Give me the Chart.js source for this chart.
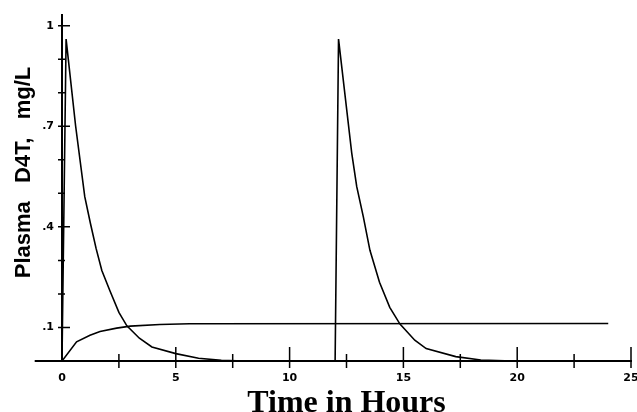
<!DOCTYPE html>
<html>
<head>
<meta charset="utf-8">
<script src="https://cdn.jsdelivr.net/npm/chart.js@4.4.0/dist/chart.umd.min.js"></script>
<style>
  html, body { margin: 0; padding: 0; background: #fff; overflow: hidden; }
  #wrap { width: 637px; height: 412px; overflow: hidden; }
</style>
</head>
<body>
<div id="wrap"><canvas id="chart" width="660" height="430"></canvas></div>
<script>
// first dose at time 0
const doseOneTime = [0, 0.18, 0.6, 1.0, 1.25, 1.5, 1.75, 2.1, 2.5, 2.85, 3.4, 3.95, 5.0, 6.0, 7.0, 8.0]
const doseOneConc = [0, 0.96, 0.7, 0.49, 0.41, 0.335, 0.27, 0.21, 0.145, 0.105, 0.068, 0.042, 0.022, 0.008, 0.002, 0]

// second dose at 12 h
const doseTwoTime = [12.0, 12.15, 12.73, 12.95, 13.24, 13.53, 13.95, 14.4, 14.85, 15.5, 16.0, 17.3, 18.4, 19.8]
const doseTwoConc = [0, 0.96, 0.62, 0.52, 0.43, 0.33, 0.235, 0.16, 0.11, 0.062, 0.037, 0.013, 0.003, 0]

// slow rising curve
const plateauTime = [0, 0.64, 1.23, 1.67, 2.4, 3.0, 4.3, 5.6, 24]
const plateauConc = [0, 0.057, 0.077, 0.088, 0.098, 0.104, 0.109, 0.111, 0.112]

const xTickValues = [0, 2.5, 5, 7.5, 10, 12.5, 15, 17.5, 20, 22.5, 25]
const xTickLabels = ['0', '', '5', '', '10', '', '15', '', '20', '', '25']
const yTickValues = [0, 0.1, 0.2, 0.3, 0.4, 0.5, 0.6, 0.7, 0.8, 0.9, 1]
const yTickLabels = ['', '.1', '', '', '.4', '', '', '.7', '', '', '1']

const ink = '#000'
const tickFont = { family: '"DejaVu Sans", sans-serif', size: 11, weight: 'bold' }

const toPoints = (xs, ys) => xs.map((x, i) => ({ x: x, y: ys[i] }))

// short tick marks crossing the axes, and the baseline running left of the y axis
const axisMarks = {
    id: 'axisMarks',
    afterDraw(chart) {
        const { ctx, scales: { x, y } } = chart
        const x0 = x.getPixelForValue(0)
        const y0 = y.getPixelForValue(0)
        ctx.save()
        ctx.strokeStyle = ink
        ctx.lineWidth = 2
        ctx.beginPath()
        ctx.moveTo(x.getPixelForValue(-1.2), y0)
        ctx.lineTo(x0, y0)
        ctx.stroke()
        ctx.lineWidth = 1.5
        ctx.beginPath()
        x.ticks.forEach((t, i) => {
            if (t.value === 0) return
            const px = x.getPixelForValue(t.value)
            const major = xTickLabels[i] !== ''
            ctx.moveTo(px, y0 - (major ? 14 : 7))
            ctx.lineTo(px, y0 + 7)
        })
        y.ticks.forEach((t, i) => {
            if (t.value === 0) return
            const py = y.getPixelForValue(t.value)
            const major = yTickLabels[i] !== ''
            ctx.moveTo(x0 - 4, py)
            ctx.lineTo(x0 + (major ? 8 : 3), py)
        })
        ctx.stroke()
        ctx.restore()
    }
}

new Chart(document.getElementById('chart'), {
    type: 'line',
    data: {
        datasets: [
            { data: toPoints(doseOneTime, doseOneConc) },
            { data: toPoints(doseTwoTime, doseTwoConc) },
            { data: toPoints(plateauTime, plateauConc) }
        ]
    },
    options: {
        responsive: false,
        animation: false,
        devicePixelRatio: 1,
        layout: { padding: { top: 11, right: 29, left: 0, bottom: 0 } },
        plugins: { legend: { display: false }, tooltip: { enabled: false } },
        elements: {
            point: { radius: 0 },
            line: { borderColor: ink, borderWidth: 1.6, tension: 0, fill: false }
        },
        scales: {
            x: {
                type: 'linear',
                min: 0,
                max: 25,
                afterBuildTicks: s => { s.ticks = xTickValues.map(v => ({ value: v })) },
                afterFit: s => { s.height = 69 },
                ticks: {
                    callback: (v, i) => xTickLabels[i],
                    autoSkip: false,
                    maxRotation: 0,
                    padding: 11,
                    color: ink,
                    font: tickFont
                },
                grid: { display: false, drawTicks: false },
                border: { display: true, color: ink, width: 2 },
                title: {
                    display: true,
                    text: 'Time in Hours',
                    color: ink,
                    font: { family: '"Liberation Serif", "Times New Roman", serif', size: 32, weight: 'bold' },
                    padding: { top: 0, bottom: 7 }
                }
            },
            y: {
                type: 'linear',
                min: 0,
                max: 1.033,
                afterBuildTicks: s => { s.ticks = yTickValues.map(v => ({ value: v })) },
                afterFit: s => { s.width = 62 },
                ticks: {
                    callback: (v, i) => yTickLabels[i],
                    autoSkip: false,
                    padding: 8,
                    color: ink,
                    font: tickFont
                },
                grid: { display: false, drawTicks: false },
                border: { display: true, color: ink, width: 2 },
                title: {
                    display: true,
                    text: '     Plasma   D4T,   mg/L',
                    color: ink,
                    font: { family: '"Liberation Sans", Arial, sans-serif', size: 22, weight: 'bold' },
                    padding: { top: 11, bottom: 0 }
                }
            }
        }
    },
    plugins: [axisMarks]
})
</script>
</body>
</html>
